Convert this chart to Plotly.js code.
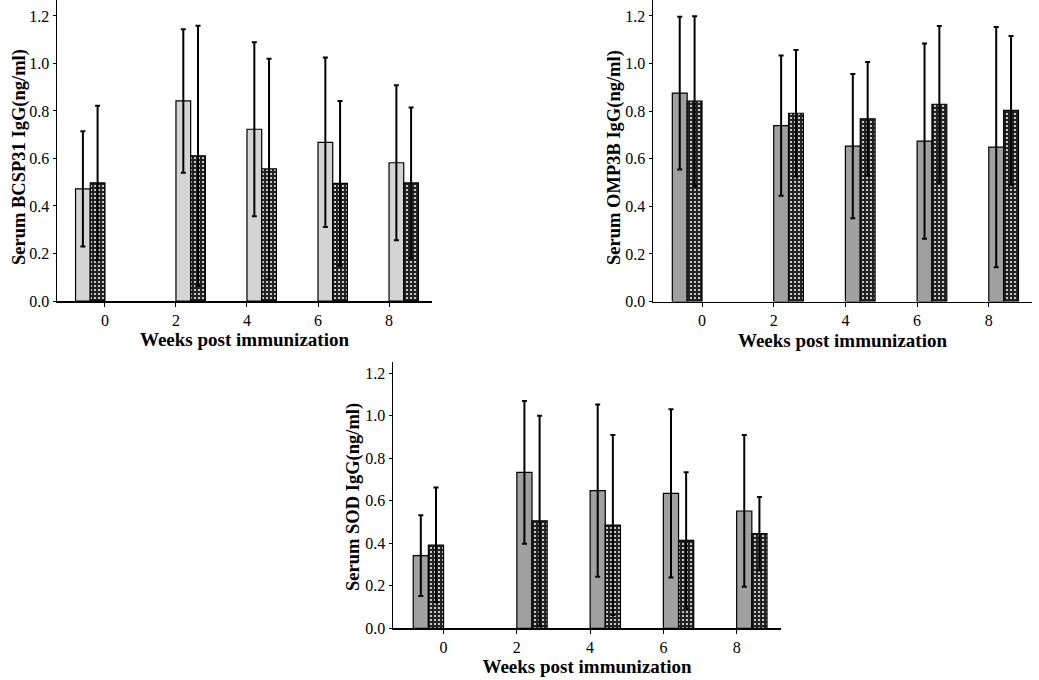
<!DOCTYPE html>
<html>
<head>
<meta charset="utf-8">
<script src="https://cdn.plot.ly/plotly-3.0.1.min.js"></script>
<style>html,body{margin:0;padding:0;background:#fff;}#chart{width:1039px;height:680px;}</style>
</head>
<body>
<div id="chart"></div>
<script>
// Data
const weeks = [0, 2, 4, 6, 8];
const tickLabels = ["0", "2", "4", "6", "8"];

const bcsp31_a = [0.472, 0.842, 0.723, 0.668, 0.582];
const bcsp31_a_err = [0.243, 0.302, 0.366, 0.357, 0.326];
const bcsp31_b = [0.497, 0.611, 0.556, 0.495, 0.497];
const bcsp31_b_err = [0.325, 0.548, 0.464, 0.347, 0.317];

const omp3b_a = [0.876, 0.739, 0.653, 0.674, 0.649];
const omp3b_a_err = [0.321, 0.295, 0.303, 0.41, 0.505];
const omp3b_b = [0.842, 0.791, 0.768, 0.829, 0.803];
const omp3b_b_err = [0.357, 0.266, 0.238, 0.329, 0.313];

const sod_a = [0.342, 0.734, 0.648, 0.635, 0.552];
const sod_a_err = [0.19, 0.336, 0.405, 0.396, 0.357];
const sod_b = [0.392, 0.506, 0.486, 0.414, 0.445];
const sod_b_err = [0.27, 0.494, 0.424, 0.32, 0.173];

const yTitles = ["Serum BCSP31 IgG(ng/ml)", "Serum OMP3B IgG(ng/ml)", "Serum SOD IgG(ng/ml)"];
const xTitle = "Weeks post immunization";

// Styling
const W = 0.414;
const offA = [-2 * W, 0, 0, 0, 0];
const offB = [-W, W, W, W, W];
const serif = "'Liberation Serif', 'Times New Roman', serif";

function barA(y, err, color, xa, ya) {
  return {
    type: "bar", x: weeks, y: y, width: W, offset: offA,
    xaxis: xa, yaxis: ya,
    marker: { color: color, line: { color: "#000", width: 1.2 } },
    error_y: { type: "data", array: err, visible: true, color: "#000", thickness: 2, width: 2.5 },
    showlegend: false, hoverinfo: "skip"
  };
}
function barB(y, err, xa, ya) {
  return {
    type: "bar", x: weeks, y: y, width: W, offset: offB,
    xaxis: xa, yaxis: ya,
    marker: {
      color: "#222222",
      line: { color: "#000", width: 1.2 },
      pattern: { shape: ".", fgcolor: "#ffffff", bgcolor: "#222222", size: 4, solidity: 0.2, fillmode: "replace" }
    },
    error_y: { type: "data", array: err, visible: true, color: "#000", thickness: 2, width: 2.5 },
    showlegend: false, hoverinfo: "skip"
  };
}

const data = [
  barA(bcsp31_a, bcsp31_a_err, "#d4d4d4", "x", "y"),
  barB(bcsp31_b, bcsp31_b_err, "x", "y"),
  barA(omp3b_a, omp3b_a_err, "#a0a0a0", "x2", "y2"),
  barB(omp3b_b, omp3b_b_err, "x2", "y2"),
  barA(sod_a, sod_a_err, "#a0a0a0", "x3", "y3"),
  barB(sod_b, sod_b_err, "x3", "y3")
];

const FW = 1039, FH = 680;
function xaxis(x0, x1, r0, r1, anchor, standoff) {
  return {
    domain: [x0 / FW, x1 / FW], range: [r0, r1], anchor: anchor,
    tickmode: "array", tickvals: weeks, ticktext: tickLabels,
    ticks: "outside", ticklen: 4, tickwidth: 1, tickcolor: "#000",
    showline: true, linecolor: "#000", linewidth: 1.5, showgrid: false, zeroline: false,
    tickfont: { family: serif, size: 16, color: "#000" },
    title: { text: xTitle, font: { family: serif, size: 19, color: "#000", weight: "bold" }, standoff: standoff }
  };
}
function yaxis(ybot, ytop, r1, anchor) {
  return {
    domain: [1 - ybot / FH, 1 - ytop / FH], range: [0, r1], anchor: anchor,
    tickmode: "array", tickvals: [0, 0.2, 0.4, 0.6, 0.8, 1.0, 1.2],
    ticktext: ["0.0", "0.2", "0.4", "0.6", "0.8", "1.0", "1.2"],
    ticks: "outside", ticklen: 3, tickwidth: 1, tickcolor: "#000",
    showline: true, linecolor: "#000", linewidth: 1.5, showgrid: false, zeroline: false,
    tickfont: { family: serif, size: 16, color: "#000" }
  };
}

function yTitle(text, px, py) {
  return {
    text: text, xref: "paper", yref: "paper", x: px / FW, y: 1 - py / FH,
    xanchor: "center", yanchor: "middle", textangle: -90, showarrow: false,
    font: { family: serif, size: 18.5, color: "#000", weight: "bold" }
  };
}

const layout = {
  width: FW, height: FH,
  margin: { l: 0, r: 0, t: 0, b: 0 },
  paper_bgcolor: "#fff", plot_bgcolor: "#fff",
  bargap: 0, barmode: "overlay",
  showlegend: false,
  xaxis: xaxis(57, 432, -1.35, 9.21, "y", 5),
  yaxis: yaxis(301, 0, 1.267, "x"),
  xaxis2: xaxis(653, 1032, -1.367, 9.205, "y2", 5),
  yaxis2: yaxis(301.5, 0, 1.267, "x2"),
  xaxis3: xaxis(393, 781, -1.38, 9.21, "y3", 1),
  yaxis3: yaxis(628.3, 362, 1.253, "x3"),
  annotations: [
    yTitle(yTitles[0], 19, 157),
    yTitle(yTitles[1], 614, 158),
    yTitle(yTitles[2], 354, 497)
  ]
};

Plotly.newPlot("chart", data, layout, { displayModeBar: false, staticPlot: true });
</script>
</body>
</html>
